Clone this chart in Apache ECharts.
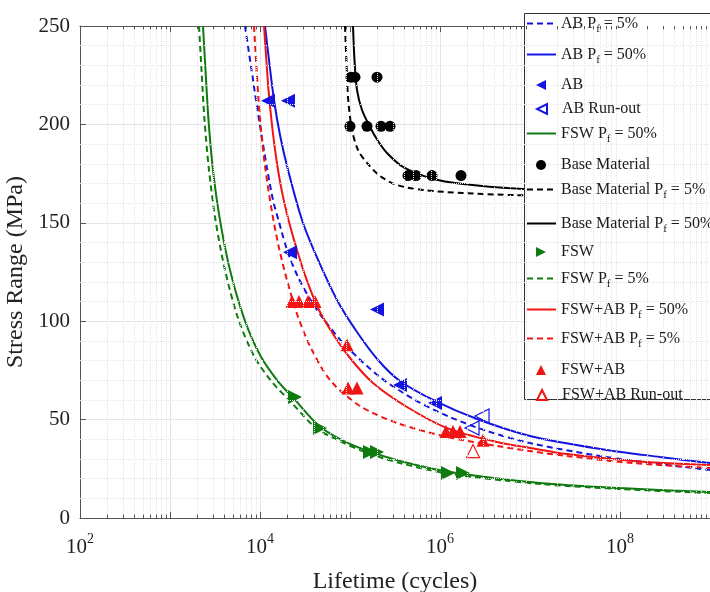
<!DOCTYPE html>
<html><head><meta charset="utf-8">
<script src="https://cdn.jsdelivr.net/npm/echarts@6/dist/echarts.min.js"></script>
<style>html,body{margin:0;padding:0;background:#fff}#c{width:710px;height:592px}</style>
</head><body><div id="c"></div>
<script>
// ---- data: [cycles, stress range MPa] ----
const abP5 = [[6813,250],[7842,231.2],[9029,212.4],[10391,194.6],[11960,177.8],[13947,161.6],[16260,150.4],[20476,134.7],[26436,122.5],[35938,111.3],[52749,100.1],[87992,87.9],[215440,71.6],[527490,60.0],[1291500,51.3],[3329000,44.2],[1e7,38.1],[5.995e7,31.5],[2.783e8,27.4],[1e9,24.4]];
const abP50 = [[11365,250],[12589,232.7],[14307,212.4],[16681,194.6],[20476,176.8],[29286,151.4],[40842,134.7],[71706,110.8],[119600,94.5],[204760,80.3],[359380,69.6],[879920,59.5],[2577000,50.3],[1e7,41.7],[5.995e7,35.1],[2.783e8,31.0],[1e9,27.9]];
const fswP50 = [[2326,250],[2480,227.6],[2678,202.2],[3004,176.8],[3594,151.4],[4642,126.0],[6642,101.6],[10000,82.8],[15446,70.1],[24487,60.0],[44101,47.3],[77426,40.1],[146780,34.6],[359380,29.0],[1291500,23.4],[12915000,17.8],[1e8,15.2],[1e9,13.2]];
const fswP5 = [[2101,250],[2239,227.6],[2418,202.2],[2712,176.8],[3204,151.4],[4084,126.0],[5696,101.6],[8577,82.3],[13594,69.1],[22103,58.9],[41900,45.7],[77426,39.1],[146780,33.5],[359380,27.9],[1291500,22.4],[12915000,17.3],[1e8,14.7],[1e9,12.7]];
const fswabP50 = [[11078,250],[11659,235.3],[12428,217.5],[13594,199.7],[15250,181.9],[17556,165.7],[21012,150.4],[25770,136.2],[32448,122.0],[44101,106.7],[64746,93.5],[100000,81.3],[180110,68.6],[429870,56.4],[1196000,45.7],[4298700,38.6],[1e7,35.6],[2.577e7,32.5],[1.3947e8,29.0],[1e9,26.9]];
const fswabP5 = [[8577,250],[9029,232.7],[9624,212.4],[10391,194.6],[11510,176.8],[13594,155.5],[16260,137.2],[19953,120.9],[25770,103.7],[35938,87.4],[59948,70.1],[129150,56.9],[332880,48.3],[1196000,41.2],[4298700,36.6],[1e7,34.0],[2.577e7,31.5],[1.3947e8,27.9],[1e9,25.4]];
const baseP50 = [[107980,250],[112200,232.7],[119600,217.5],[135940,207.3],[166810,198.7],[204760,191.6],[257700,185.5],[388120,178.4],[774260,172.8],[1801100,169.7],[8360000,167.2],[5.995e7,166.2],[1e9,165.7]];
const baseP5 = [[87992,250],[91450,231.2],[94987,213.9],[105250,197.2],[122710,187.0],[154460,180.4],[215440,173.8],[332880,169.2],[647460,166.7],[1801100,165.1],[6474600,164.1],[5.995e7,163.1],[1e9,162.6]];

const abPts = [[12271,212],[20476,212],[21544,135],[199530,106],[359380,67.6],[879920,58.4]];
const abRunout = [[2268000,45.7],[2930000,51.8]];
const basePts = [[102590,224],[113650,224],[199530,224],[100000,199],[154460,199],[221030,199],[278260,199],[441010,174],[541170,174],[815320,174],[1711300,174]];
const fswPts = [[24487,61.5],[46416,45.7],[166810,33.5],[199530,33.5],[1227100,22.9],[1801100,22.9]];
const fswabPts = [[22677,110],[27123,110],[34146,110],[40842,110],[92612,88],[94987,66],[119600,66],[1165900,44],[1394700,44],[1668100,44],[3005000,39.5]];
const fswabRunout = [[2326300,34]];

const xMin = 100, xMax = 1e9, yMin = 0, yMax = 250, yStep = 50;

// ---- styling ----
const FONT = 'Liberation Serif';
const BLUE = '#1414e0', RED = '#f01414', GREEN = '#0f7a0f', BLACK = '#000';
const DASH = [6, 4];
const ICON_LEFT = 'path://M10,0L10,10L0,5Z';
const ICON_RIGHT = 'path://M0,0L0,10L10,5Z';

// minor grid / tick helper values (2..9 per decade)
const minorX = [];
for (let k = 2; k < 9; k++) for (let m = 2; m <= 9; m++) minorX.push(m * Math.pow(10, k));
const minorY = [];
for (let v = 10; v < yMax; v += 10) if (v % yStep !== 0) minorY.push(v);

function curve(name, data, color, dashed) {
  return {name, type: 'line', data, symbol: 'none', smooth: 0.3, z: 3,
    lineStyle: {color, width: 2, type: dashed ? DASH : 'solid'}, itemStyle: {color}};
}
function pts(name, data, color, symbol, rot, size, hollow) {
  return {name, type: 'scatter', data, symbol, symbolRotate: rot, symbolSize: size, z: 4,
    symbolKeepAspect: true,
    itemStyle: hollow ? {color: 'rgba(0,0,0,0)', borderColor: color, borderWidth: 1.2, opacity: 1}
                      : {color, opacity: 1}};
}

const series = [
  {name: '_grid', type: 'line', data: [], silent: true, z: 1,
    markLine: {silent: true, symbol: ['none', 'none'], label: {show: false}, animation: false,
      lineStyle: {color: '#e4e4e4', type: 'dotted', width: 1},
      data: minorX.map(v => ({xAxis: v})).concat(minorY.map(v => ({yAxis: v})))}},
  {name: '_ticks', type: 'line', data: [], silent: true, z: 1,
    markLine: {silent: true, symbol: ['none', 'none'], label: {show: false}, animation: false,
      lineStyle: {color: '#555', type: 'solid', width: 1},
      data: minorX.map(v => [{coord: [v, 0]}, {coord: [v, 1.7]}])
        .concat(minorX.map(v => [{coord: [v, 250]}, {coord: [v, 248.3]}]))}},
  curve('AB Pf = 5%', abP5, BLUE, true),
  curve('AB Pf = 50%', abP50, BLUE, false),
  curve('FSW Pf = 50%', fswP50, GREEN, false),
  curve('Base Material Pf = 5%', baseP5, BLACK, true),
  curve('Base Material Pf = 50%', baseP50, BLACK, false),
  curve('FSW Pf = 5%', fswP5, GREEN, true),
  curve('FSW+AB Pf = 50%', fswabP50, RED, false),
  curve('FSW+AB Pf = 5%', fswabP5, RED, true),
  pts('AB', abPts, BLUE, 'triangle', 90, 14, false),
  pts('AB Run-out', abRunout, BLUE, 'triangle', 90, 14, true),
  pts('Base Material', basePts, BLACK, 'circle', 0, 11, false),
  pts('FSW', fswPts, GREEN, 'triangle', -90, 14, false),
  pts('FSW+AB', fswabPts, RED, 'triangle', 0, 13, false),
  pts('FSW+AB Run-out', fswabRunout, RED, 'triangle', 0, 13, true)
];

const legendItems = [
  ['AB Pf = 5%', 22], ['AB Pf = 50%', 53], ['AB', 83], ['AB Run-out', 107],
  ['FSW Pf = 50%', 132], ['Base Material', 163], ['Base Material Pf = 5%', 188],
  ['Base Material Pf = 50%', 222], ['FSW', 250], ['FSW Pf = 5%', 277],
  ['FSW+AB Pf = 50%', 308], ['FSW+AB Pf = 5%', 337], ['FSW+AB', 368], ['FSW+AB Run-out', 393]
];
const legendIcons = {'AB': ICON_LEFT, 'AB Run-out': ICON_LEFT, 'FSW': ICON_RIGHT};
const legends = legendItems.map(([name, yc]) => {
  const sub = name.indexOf('Pf') >= 0;
  const textStyle = {fontFamily: FONT, fontSize: 16, color: '#1a1a1a',
    rich: {sub: {fontFamily: FONT, fontSize: 11, color: '#1a1a1a', padding: [12, 0, 0, 0]}}};
  if (sub) {
    // line entries: line only, no marker dot
    return {data: [name], left: 526, top: yc - 6.5, orient: 'vertical', padding: 0,
      itemWidth: 29, itemHeight: 9, z: 6, selectedMode: false,
      itemStyle: {opacity: 0},
      formatter: n => n.replace('Pf', 'P{sub|f}'), textStyle};
  }
  // marker entries: square icon box, text pushed right to line up
  textStyle.padding = [0, 0, 0, 10];
  const lg = {data: [name], left: 536, top: yc - 6, orient: 'vertical', padding: 0,
    itemWidth: 10, itemHeight: 10, z: 6, selectedMode: false, symbolKeepAspect: true,
    formatter: n => n, textStyle};
  if (legendIcons[name]) { lg.icon = legendIcons[name]; }
  return lg;
});

const xLabel = {
  fontFamily: FONT, fontSize: 21, color: '#222', margin: 14,
  formatter: v => { const e = Math.round(Math.log10(v)); return e % 2 === 0 ? '10{sup|' + e + '}' : ''; },
  rich: {sup: {fontFamily: FONT, fontSize: 14, color: '#222', padding: [0, 0, 16, 0]}}
};

const option = {
  animation: false,
  backgroundColor: '#fff',
  grid: {left: 80, right: 0, top: 26, bottom: 74, outerBoundsMode: 'none'},
  legend: legends,
  graphic: [{type: 'rect', z: 5, shape: {x: 524.5, y: 13.5, width: 200, height: 386},
    style: {fill: '#fff', stroke: '#333', lineWidth: 1}}],
  xAxis: [
    {type: 'log', logBase: 10, min: xMin, max: xMax, splitNumber: 7,
      name: 'Lifetime (cycles)', nameLocation: 'middle', nameGap: 52,
      nameTextStyle: {fontFamily: FONT, fontSize: 24, color: '#222'},
      axisLine: {lineStyle: {color: '#555'}}, axisTick: {inside: true, length: 6, lineStyle: {color: '#555'}},
      axisLabel: xLabel, splitLine: {show: true, lineStyle: {color: '#e4e4e4'}}, minorTick: {show: false}},
    {type: 'log', logBase: 10, min: xMin, max: xMax, splitNumber: 7, position: 'top',
      axisLine: {lineStyle: {color: '#555'}}, axisTick: {inside: true, length: 6, lineStyle: {color: '#555'}},
      axisLabel: {show: false}, splitLine: {show: false}}
  ],
  yAxis: {type: 'value', min: yMin, max: yMax, interval: yStep,
    name: 'Stress Range (MPa)', nameLocation: 'middle', nameGap: 42, nameRotate: 90,
    nameTextStyle: {fontFamily: FONT, fontSize: 24, color: '#222'},
    axisLine: {show: true, lineStyle: {color: '#555'}}, axisTick: {show: true, inside: true, length: 6, lineStyle: {color: '#555'}},
    axisLabel: {fontFamily: FONT, fontSize: 21, color: '#222', margin: 10},
    splitLine: {show: true, lineStyle: {color: '#e4e4e4'}}},
  series
};
echarts.init(document.getElementById('c'), null, {renderer: 'canvas'}).setOption(option);
</script></body></html>
